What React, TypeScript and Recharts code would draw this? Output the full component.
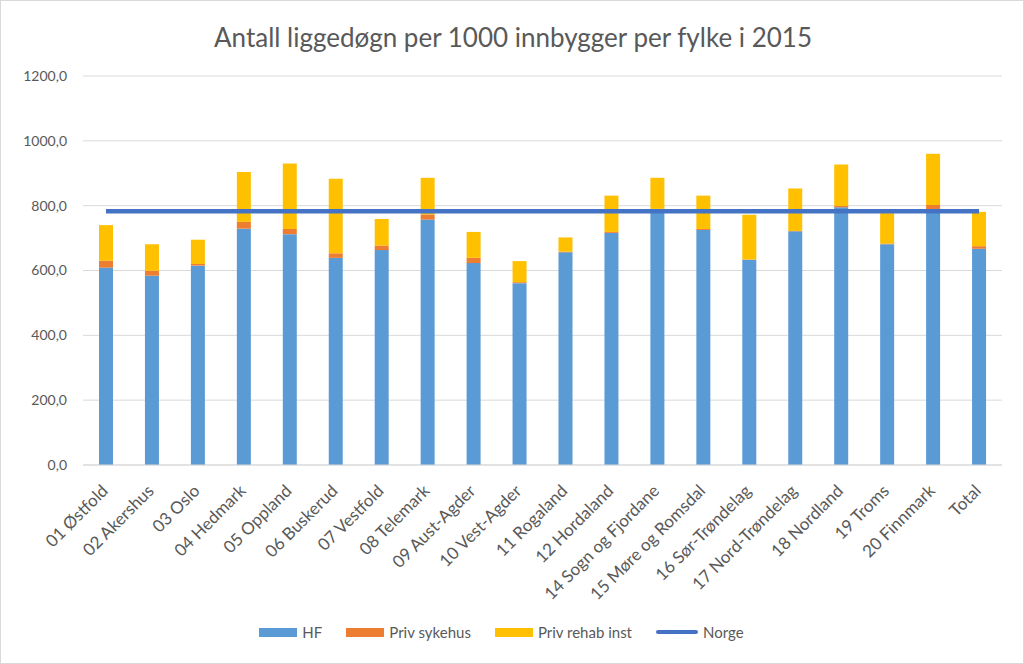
import {ComposedChart, Bar, Line, XAxis, YAxis, CartesianGrid, Legend} from 'recharts'

const categories: string[] = [
    '01 Østfold', '02 Akershus', '03 Oslo', '04 Hedmark', '05 Oppland', '06 Buskerud',
    '07 Vestfold', '08 Telemark', '09 Aust-Agder', '10 Vest-Agder', '11 Rogaland',
    '12 Hordaland', '14 Sogn og Fjordane', '15 Møre og Romsdal', '16 Sør-Trøndelag',
    '17 Nord-Trøndelag', '18 Nordland', '19 Troms', '20 Finnmark', 'Total'
]
const hf: number[] = [609, 584, 615, 729, 712, 639, 663, 757, 623, 561, 656, 716, 788, 725, 633, 721, 795, 681, 789, 667]
const privSykehus: number[] = [21, 15, 5, 21, 16, 14, 14, 16, 16, 3, 2, 3, 2, 3, 1, 1, 4, 2, 13, 8]
const privRehab: number[] = [110, 82, 75, 154, 202, 230, 82, 113, 80, 65, 44, 112, 96, 103, 138, 131, 128, 94, 158, 106]
const norge: number[] = categories.map(() => 783)
const yTicks: number[] = [0, 200, 400, 600, 800, 1000, 1200]

const data = categories.map((name, i) => ({
    name,
    hf: hf[i],
    privSykehus: privSykehus[i],
    privRehab: privRehab[i],
    norge: norge[i],
}))

const FONT = 'Lato, "Open Sans", sans-serif'
const TEXT = '#595959'

const XTick = (props: any) => {
    const {x, y, payload} = props
    return (
        <text x={x + 3} y={y + 19} textAnchor="end" fill={TEXT} fontSize={17} fontFamily={FONT}
              transform={`rotate(-45, ${x + 3}, ${y + 19})`}>
            {payload.value}
        </text>
    )
}

const LegendBox = () => {
    const items = [
        {label: 'HF', color: '#5B9BD5', line: false},
        {label: 'Priv sykehus', color: '#ED7D31', line: false},
        {label: 'Priv rehab inst', color: '#FFC000', line: false},
        {label: 'Norge', color: '#4472C4', line: true},
    ]
    return (
        <div style={{display: 'flex', justifyContent: 'center', gap: 24, fontFamily: FONT, fontSize: 15, color: TEXT}}>
            {items.map(it => (
                <div key={it.label} style={{display: 'flex', alignItems: 'center', gap: 5}}>
                    <span style={{
                        display: 'inline-block', width: it.line ? 42 : 38, height: it.line ? 4 : 9,
                        background: it.color, borderRadius: it.line ? 2 : 0
                    }}/>
                    <span>{it.label}</span>
                </div>
            ))}
        </div>
    )
}

const App = () => {
    return (
        <div style={{position: 'absolute', left: 0, top: 0, width: 1024, height: 664, background: '#fff',
            border: '1px solid #D9D9D9', boxSizing: 'border-box'}}>
            <div style={{position: 'absolute', top: 20, left: 0, width: 1024, textAlign: 'center',
                fontFamily: FONT, fontSize: 26, color: TEXT}}>
                Antall liggedøgn per 1000 innbygger per fylke i 2015
            </div>
            <ComposedChart width={1022} height={662} data={data}
                           margin={{top: 75, right: 21, left: 0, bottom: 22}} barSize={14}>
                <CartesianGrid vertical={false} stroke="#D9D9D9"/>
                <XAxis dataKey="name" interval={0} tick={<XTick/>} tickLine={false}
                       axisLine={{stroke: '#D9D9D9'}} height={158}/>
                <YAxis domain={[0, 1200]} ticks={yTicks} width={82} tickLine={false} axisLine={false}
                       tickMargin={10} tick={{fill: TEXT, fontSize: 14, fontFamily: FONT}}
                       tickFormatter={(v: number) => v.toFixed(1).replace('.', ',')}/>
                <Legend verticalAlign="bottom" content={<LegendBox/>}/>
                <Bar dataKey="hf" stackId="a" fill="#5B9BD5" isAnimationActive={false}/>
                <Bar dataKey="privSykehus" stackId="a" fill="#ED7D31" isAnimationActive={false}/>
                <Bar dataKey="privRehab" stackId="a" fill="#FFC000" isAnimationActive={false}/>
                <Line dataKey="norge" stroke="#4472C4" strokeWidth={4.5} dot={false} isAnimationActive={false}/>
            </ComposedChart>
        </div>
    )
}

export default App
